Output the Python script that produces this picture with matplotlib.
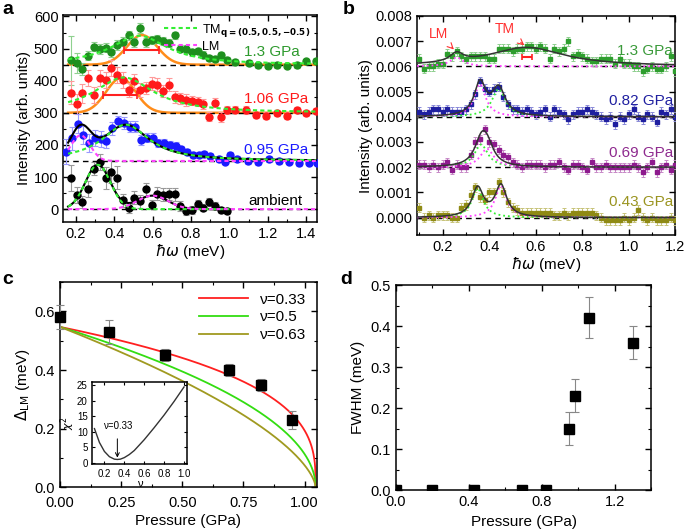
import numpy as np
import matplotlib
matplotlib.use('Agg')
import matplotlib.pyplot as plt
from matplotlib.ticker import MultipleLocator

plt.rcParams['font.family'] = ['Liberation Sans', 'DejaVu Sans']
plt.rcParams['font.size'] = 10
plt.rcParams['axes.linewidth'] = 1.1

# ---------------- panel a : spectra (arb. units) ----------------
a_x_gr = [0.175, 0.205, 0.235, 0.265, 0.295, 0.325, 0.355, 0.385, 0.415, 0.445,
          0.475, 0.505, 0.535, 0.565, 0.595, 0.625, 0.655, 0.685, 0.715, 0.745,
          0.775, 0.805, 0.835, 0.865, 0.895, 0.925, 0.955, 0.985,
          1.03, 1.10, 1.15, 1.20, 1.25, 1.30, 1.35, 1.40, 1.45]
a_y_13 = [463, 455, 437, 478, 506, 498, 503, 489, 512, 522,
          541, 519, 564, 519, 527, 530, 524, 517, 541, 500,
          499, 488, 493, 481, 470, 468, 479, 465,
          458, 455, 449, 446, 449, 446, 449, 460, 462]
a_e_13 = [75, 30, 18, 15, 15, 15, 15, 15, 15, 15,
          15, 15, 15, 15, 12, 12, 12, 12, 12, 12,
          12, 10, 10, 10, 10, 10, 10, 10, 10, 8, 8, 8, 8, 8, 8, 8, 8]

a_x_red = [0.175, 0.205, 0.235, 0.265, 0.295, 0.325, 0.355, 0.385, 0.415, 0.445,
           0.475, 0.505, 0.535, 0.565, 0.595, 0.625, 0.655, 0.685, 0.715, 0.745,
           0.775, 0.805, 0.835, 0.865, 0.895, 0.925, 0.955, 0.985,
           1.03, 1.085, 1.14, 1.19, 1.25, 1.30, 1.35, 1.40, 1.45]
a_y_106 = [363, 327, 361, 408, 356, 408, 401, 439, 418, 403,
           372, 400, 372, 377, 390, 387, 368, 387, 349, 345,
           340, 338, 335, 328, 288, 332, 287, 309,
           310, 309, 294, 291, 299, 291, 309, 299, 306]
a_e_106 = [35, 30, 30, 25, 25, 25, 25, 25, 25, 25,
           22, 22, 22, 20, 20, 20, 20, 20, 18, 18,
           18, 15, 15, 15, 15, 15, 15, 12, 12, 12,
           10, 10, 10, 10, 10, 10, 10]

a_x_blue = [0.15, 0.18, 0.21, 0.24, 0.27, 0.30, 0.33, 0.36, 0.39, 0.42,
            0.45, 0.48, 0.51, 0.54, 0.57, 0.60, 0.63, 0.66, 0.69, 0.72,
            0.75, 0.78, 0.81, 0.84, 0.87, 0.90,
            0.945, 0.975, 1.005, 1.04, 1.095, 1.15, 1.205, 1.26, 1.31, 1.365, 1.415, 1.455]
a_y_095 = [179, 220, 266, 230, 206, 222, 218, 211, 252, 273,
           268, 257, 257, 216, 223, 223, 205, 205, 199, 197,
           188, 177, 169, 169, 171, 166,
           156, 148, 169, 156, 150, 146, 156, 150, 148, 143, 145, 145]
a_e_095 = [40, 35, 30, 28, 28, 25, 25, 22, 20, 18,
           18, 18, 18, 15, 15, 15, 12, 12, 12, 12,
           10, 10, 10, 10, 10, 10,
           8, 8, 8, 8, 8, 8, 8, 8, 8, 8, 8, 8]

a_x_amb = [0.175, 0.205, 0.235, 0.265, 0.295, 0.325, 0.355, 0.385, 0.415, 0.445,
           0.475, 0.505, 0.535, 0.565, 0.595, 0.625, 0.655, 0.685, 0.715, 0.745,
           0.775, 0.805, 0.835, 0.865, 0.895, 0.925, 0.955, 0.985]
a_y_amb = [97, 45, 22, 63, 126, 146, 97, 117, 98, 27,
           3, 36, 24, 62, 14, 48, 45, 47, 46, 10,
           -6, -2, 17, 5, 22, 11, -2, -5]
a_e_amb = [40, 25, 20, 25, 20, 25, 35, 35, 35, 20,
           15, 20, 20, 20, 15, 20, 20, 18, 20, 15,
           12, 12, 12, 12, 12, 10, 10, 10]

a_offsets = [450, 300, 150, 0]
# fit peaks: (centre, amplitude, width)
amb_tm = (0.315, 138, 0.065)
amb_lm = (0.60, 42, 0.08)
p095_lm = (0.225, 80, 0.05)
p095_tm = (0.46, 113, 0.15)
p106_tm = (0.45, 110, 0.19)
p106_res = (0.435, 108, 0.077)
p13_tm = (0.53, 90, 0.18)
p13_res = (0.545, 92, 0.079)
p106_bar = (0.343, 0.52, 354)
p13_bar = (0.45, 0.635, 497)

# ---------------- panel b ----------------
b_x = [0.10, 0.12, 0.14, 0.16, 0.18, 0.20, 0.22, 0.24, 0.26, 0.28,
       0.30, 0.32, 0.34, 0.36, 0.38, 0.40, 0.42, 0.44, 0.46, 0.48,
       0.50, 0.52, 0.54, 0.56, 0.58, 0.60, 0.62, 0.64, 0.66, 0.68,
       0.70, 0.72, 0.74, 0.76, 0.78, 0.80, 0.82, 0.84, 0.86, 0.88,
       0.90, 0.92, 0.94, 0.96, 0.98, 1.00, 1.02, 1.04, 1.06, 1.08,
       1.10, 1.12, 1.14, 1.16, 1.18, 1.20]
b_y_13 = [0.0063, 0.0059, 0.0060, 0.0060, 0.0061, 0.0061, 0.0065, 0.0064, 0.0066, 0.0064,
          0.0063, 0.0064, 0.0064, 0.0064, 0.0064, 0.0063, 0.0063, 0.0067, 0.0067, 0.0067,
          0.0066, 0.0067, 0.0067, 0.0068, 0.0068, 0.0067, 0.0068, 0.0067, 0.0063, 0.0067,
          0.0066, 0.0067, 0.0070, 0.0064, 0.0065, 0.0064, 0.0063, 0.0062, 0.0062, 0.0063,
          0.0063, 0.0063, 0.0061, 0.0063, 0.0061, 0.0061, 0.0060, 0.0060, 0.0058, 0.0059,
          0.0060, 0.0059, 0.0059, 0.0060, 0.0064, 0.0058]
b_y_082 = [0.0042, 0.0041, 0.0042, 0.0043, 0.0043, 0.0042, 0.0043, 0.0042, 0.0042, 0.0042,
           0.0043, 0.0045, 0.0049, 0.0054, 0.0051, 0.0050, 0.0051, 0.0052, 0.0048, 0.0045,
           0.0043, 0.0043, 0.0042, 0.0043, 0.0042, 0.0041, 0.0042, 0.0043, 0.0040, 0.0043,
           0.0042, 0.0041, 0.0039, 0.0041, 0.0042, 0.0042, 0.0043, 0.0042, 0.0041, 0.0040,
           0.0039, 0.0040, 0.0037, 0.0040, 0.0039, 0.0041, 0.0043, 0.0040, 0.0039, 0.0041,
           0.0040, 0.0038, 0.0042, 0.0041, 0.0043, 0.0040]
b_y_069 = [0.0021, 0.0021, 0.0020, 0.0021, 0.0020, 0.0021, 0.0022, 0.0019, 0.0021, 0.0020,
           0.0020, 0.0025, 0.0030, 0.0031, 0.0035, 0.0030, 0.0029, 0.0027, 0.0025, 0.0024,
           0.0022, 0.0021, 0.0020, 0.0021, 0.0021, 0.0021, 0.0021, 0.0020, 0.0021, 0.0021,
           0.0022, 0.0020, 0.0019, 0.0021, 0.0021, 0.0020, 0.0019, 0.0022, 0.0020, 0.0020,
           0.0021, 0.0020, 0.0020, 0.0020, 0.0020, 0.0020, 0.0021, 0.0020, 0.0018, 0.0020,
           0.0022, 0.0018, 0.0020, 0.0021, 0.0019, 0.0021]
b_y_043 = [0.0004, 0.0000, 0.0001, 0.0000, 0.0001, 0.0001, 0.0001, 0.0000, 0.0000, 0.0004,
           0.0005, 0.0009, 0.0012, 0.0008, 0.0007, 0.0010, 0.0010, 0.0014, 0.0010, 0.0006,
           0.0004, 0.0003, 0.0002, 0.0002, 0.0002, 0.0002, 0.0002, 0.0002, 0.0002, 0.0001,
           0.0001, 0.0002, 0.0001, 0.0002, 0.0002, 0.0002, 0.0002, 0.0002, 0.0001, 0.0000,
           -0.0001, -0.0001, -0.0001, -0.0001, 0.0000, -0.0001, 0.0000, 0.0003, 0.0000, -0.0001,
           0.0000, -0.0001, -0.0001, -0.0001, 0.0000, -0.0001]
b_err = 0.00018
b_offsets = [0.006, 0.004, 0.002, 0.0]
b13_lm = (0.26, 0.00035, 0.035)
b13_tm = (0.56, 0.00075, 0.2)
b082_lm = (0.36, 0.0013, 0.03)
b082_tm = (0.44, 0.0011, 0.035)
b069_tm = (0.365, 0.0009, 0.035)
b069_lm = (0.39, 0.00073, 0.035)
b043_tm = (0.35, 0.00115, 0.03)
b043_lm = (0.45, 0.00125, 0.03)
b13_bar = (0.54, 0.585, 0.00638)

# ---------------- panel c ----------------
c_p = [0.0, 0.20, 0.43, 0.69, 0.82, 0.95]
c_gap = [0.58, 0.53, 0.45, 0.40, 0.35, 0.23]
c_err = [0.04, 0.04, 0.02, 0.02, 0.02, 0.03]
c_nu = [0.33, 0.5, 0.63]
c_amp = 0.547
c_pc = 1.045
inset_nu = [0.1, 0.15, 0.2, 0.25, 0.3, 0.33, 0.36, 0.4, 0.45, 0.5, 0.6, 0.7, 0.8, 0.9, 1.0]
inset_chi2 = [11.0, 6.5, 3.6, 1.9, 1.1, 1.0, 1.1, 1.6, 2.6, 3.9, 7.4, 11.3, 15.4, 19.8, 24.5]

# ---------------- panel d ----------------
d_p = [0.0, 0.20, 0.43, 0.69, 0.82, 0.95, 0.98, 1.06, 1.30]
d_fwhm = [0.0, 0.0, 0.0, 0.0, 0.0, 0.15, 0.23, 0.42, 0.36]
d_err = [0, 0, 0, 0, 0, 0.04, 0.04, 0.05, 0.04]


def gauss(x, p):
    c, a, w = p
    return a * np.exp(-(x - c) ** 2 / (2 * w ** 2))


def lorentz(x, p):
    c, a, w = p
    return a / (1 + ((x - c) / w) ** 2)


def style_axis(ax):
    ax.tick_params(which='both', direction='in', top=True, right=True, labelsize=10.5)
    ax.tick_params(which='major', length=4, width=1)
    ax.tick_params(which='minor', length=2, width=0.8)


TM_COL = '#33ee33'
LM_COL = '#ff44ff'
DOT = (0, (2, 1.5))

fig = plt.figure(figsize=(6.85, 5.31), dpi=100)

# ===== a =====
ax = fig.add_axes([0.0924, 0.582, 0.370, 0.390])
xf = np.linspace(0.16, 1.45, 400)
xamb = np.linspace(0.16, 1.0, 300)

ax.plot(xf, a_offsets[0] + gauss(xf, p13_res), color='#ff8c1a', lw=1.8, zorder=2)
ax.plot(xf, a_offsets[1] + gauss(xf, p106_res), color='#ff8c1a', lw=1.8, zorder=2)
for off in a_offsets:
    ax.axhline(off, color='k', ls=(0, (4, 3)), lw=1, zorder=3)

ax.errorbar(a_x_gr, a_y_13, yerr=a_e_13, fmt='o', color='#1e8f1e', ecolor='#8fd18f',
            ms=5, capsize=2, elinewidth=0.8, capthick=0.8, zorder=4)
ax.errorbar(a_x_red, a_y_106, yerr=a_e_106, fmt='o', color='#ff1a1a', ecolor='#ff9a9a',
            ms=5, capsize=2, elinewidth=0.8, capthick=0.8, zorder=4)
ax.errorbar(a_x_blue, a_y_095, yerr=a_e_095, fmt='o', color='#1a1aff', ecolor='#9a9aff',
            ms=5, capsize=2, elinewidth=0.8, capthick=0.8, zorder=4)
ax.errorbar(a_x_amb, a_y_amb, yerr=a_e_amb, fmt='o', color='k', ecolor='#999999',
            ms=5, capsize=2, elinewidth=0.8, capthick=0.8, zorder=4)

ax.plot(xf, a_offsets[0] + lorentz(xf, p13_tm), color=TM_COL, ls=DOT, lw=1.5, zorder=5,
        label=r'TM$_{\mathbf{q=(0.5,0.5,{-}0.5)}}$')
ax.plot(xf, a_offsets[1] + lorentz(xf, p106_tm), color=TM_COL, ls=DOT, lw=1.5, zorder=5)

ax.plot(xf, a_offsets[2] + lorentz(xf, p095_tm) + gauss(xf, p095_lm), color='k', lw=1.5, zorder=5)
ax.plot(xf, a_offsets[2] + lorentz(xf, p095_tm), color=TM_COL, ls=DOT, lw=1.5, zorder=6)
ax.plot(xf, a_offsets[2] + gauss(xf, p095_lm), color=LM_COL, ls=DOT, lw=1.5, zorder=6,
        label='LM')

ax.plot(xamb, gauss(xamb, amb_tm) + gauss(xamb, amb_lm), color='k', lw=1.5, zorder=5)
ax.plot(xamb, gauss(xamb, amb_tm), color=TM_COL, ls=DOT, lw=1.5, zorder=6)
ax.plot(xf, gauss(xf, amb_lm), color=LM_COL, ls=DOT, lw=1.5, zorder=6)

for bar in [p106_bar, p13_bar]:
    ax.errorbar([(bar[0] + bar[1]) / 2], [bar[2]], xerr=[(bar[1] - bar[0]) / 2],
                fmt='none', ecolor='#ff2020', capsize=3, elinewidth=1.5, capthick=1.2, zorder=6)

ax.text(1.22, 489, '1.3 GPa', color='#2e9a2e', ha='center', va='center', fontsize=11)
ax.text(1.245, 342, '1.06 GPa', color='#ff1a1a', ha='center', va='center', fontsize=11)
ax.text(1.245, 185, '0.95 GPa', color='#1a1aff', ha='center', va='center', fontsize=11)
ax.text(1.24, 26, 'ambient', color='k', ha='center', va='center', fontsize=11)
ax.legend(loc='upper right', frameon=False, fontsize=9, handlelength=2.6,
          borderaxespad=0.15, labelspacing=0.15, handletextpad=0.4)
ax.set_xlim(0.135, 1.455)
ax.set_ylim(-40, 605)
ax.xaxis.set_major_locator(MultipleLocator(0.2))
ax.xaxis.set_minor_locator(MultipleLocator(0.1))
ax.yaxis.set_major_locator(MultipleLocator(100))
ax.yaxis.set_minor_locator(MultipleLocator(50))
style_axis(ax)
ax.set_xlabel(r'$\hbar\omega$ (meV)', fontsize=11, labelpad=1)
ax.set_ylabel('Intensity (arb. units)', fontsize=11, labelpad=2)

# ===== b =====
ax = fig.add_axes([0.609, 0.557, 0.377, 0.413])
xb = np.linspace(0.09, 1.2, 400)
for off in b_offsets:
    ax.axhline(off, color='k', ls=(0, (4, 3)), lw=1, zorder=2)

series_b = [(b_y_13, '#2e9e2e', '#8fcf8f'), (b_y_082, '#1f1fa0', '#8a8ad8'),
            (b_y_069, '#8e1a8e', '#c88ac8'), (b_y_043, '#8f8a14', '#c8c47a')]
for yv, col, ecol in series_b:
    ax.errorbar(b_x, yv, yerr=b_err, fmt='s', color=col, ecolor=ecol, ms=3.5,
                capsize=1.5, elinewidth=0.7, capthick=0.7, zorder=3)

ax.plot(xb, b_offsets[0] + lorentz(xb, b13_lm), color=LM_COL, ls=':', lw=1.3, zorder=4)
ax.plot(xb, b_offsets[0] + lorentz(xb, b13_lm) + lorentz(xb, b13_tm), color='#333333', lw=1.1, zorder=5)
pairs = [(b_offsets[1], b082_tm, b082_lm), (b_offsets[2], b069_tm, b069_lm),
         (b_offsets[3], b043_tm, b043_lm)]
for off, tm, lm in pairs:
    ax.plot(xb, off + lorentz(xb, tm), color=TM_COL, ls=':', lw=1.3, zorder=4)
    ax.plot(xb, off + lorentz(xb, lm), color=LM_COL, ls=':', lw=1.3, zorder=4)
    ax.plot(xb, off + lorentz(xb, tm) + lorentz(xb, lm), color='#333333', lw=1.1, zorder=5)

ax.errorbar([(b13_bar[0] + b13_bar[1]) / 2], [b13_bar[2]], xerr=[(b13_bar[1] - b13_bar[0]) / 2],
            fmt='none', ecolor='#ff2020', capsize=2.5, elinewidth=1.5, capthick=1.2, zorder=6)
ax.annotate('LM', xy=(0.252, 0.00663), xytext=(0.18, 0.0073), color='#ff3030',
            fontsize=10, ha='center', va='center',
            arrowprops=dict(arrowstyle='->', color='#ff3030', lw=0.8, shrinkA=4, shrinkB=1))
ax.annotate('TM', xy=(0.555, 0.0068), xytext=(0.466, 0.00748), color='#ff3030',
            fontsize=10, ha='center', va='center',
            arrowprops=dict(arrowstyle='->', color='#ff3030', lw=0.8, shrinkA=4, shrinkB=1))
ax.text(1.19, 0.0066, '1.3 GPa', color='#3a9a3a', ha='right', va='center', fontsize=11)
ax.text(1.19, 0.00464, '0.82 GPa', color='#2020a0', ha='right', va='center', fontsize=11)
ax.text(1.19, 0.00256, '0.69 GPa', color='#8e2a8e', ha='right', va='center', fontsize=11)
ax.text(1.19, 0.0006, '0.43 GPa', color='#9a9420', ha='right', va='center', fontsize=11)
ax.set_xlim(0.09, 1.2)
ax.set_ylim(-0.0007, 0.008)
ax.xaxis.set_major_locator(MultipleLocator(0.2))
ax.xaxis.set_minor_locator(MultipleLocator(0.1))
ax.set_yticks([0.0, 0.001, 0.002, 0.003, 0.004, 0.005, 0.006, 0.007, 0.008])
ax.set_yticklabels(['0.000', '0.001', '0.002', '0.003', '0.004', '0.005', '0.006', '0.007', '0.008'])
style_axis(ax)
ax.set_xlabel(r'$\hbar\omega$ (meV)', fontsize=11, labelpad=1)
ax.set_ylabel('Intensity (arb. units)', fontsize=11, labelpad=2)

# ===== c =====
ax = fig.add_axes([0.0876, 0.082, 0.375, 0.387])
pp = np.linspace(0, c_pc, 600)
cols_c = ['#ff2020', '#33dd11', '#a09a20']
for nu, col in zip(c_nu, cols_c):
    ax.plot(pp, c_amp * (1 - pp / c_pc) ** nu, color=col, lw=1.3, label='\u03bd=%g' % nu)
ax.errorbar(c_p, c_gap, yerr=c_err, fmt='s', color='k', ecolor='#888888', ms=6.5,
            capsize=3, elinewidth=0.8, capthick=0.8, zorder=5, clip_on=False)
ax.legend(loc='upper right', frameon=False, fontsize=11, handlelength=3.2,
          borderaxespad=0.3, labelspacing=0.25)
ax.set_xlim(0, 1.05)
ax.set_ylim(0, 0.7)
ax.set_xticks([0.0, 0.25, 0.5, 0.75, 1.0])
ax.set_xticklabels(['0.00', '0.25', '0.50', '0.75', '1.00'])
ax.xaxis.set_minor_locator(MultipleLocator(0.125))
ax.yaxis.set_major_locator(MultipleLocator(0.2))
ax.yaxis.set_minor_locator(MultipleLocator(0.1))
style_axis(ax)
ax.tick_params(axis='x', which='major', pad=6)
ax.set_xlabel('Pressure (GPa)', fontsize=11, labelpad=3)
ax.set_ylabel(r'$\Delta_{\rm LM}$ (meV)', fontsize=11, labelpad=2)

ins = fig.add_axes([0.135, 0.126, 0.138, 0.154])
ins.plot(inset_nu, inset_chi2, color='#333333', lw=1)
ins.annotate('\u03bd=0.33', xy=(0.33, 1.6), xytext=(0.33, 12), fontsize=7, ha='center',
             va='center', arrowprops=dict(arrowstyle='->', color='k', lw=0.7, shrinkA=4, shrinkB=0))
ins.set_xlim(0.08, 1.03)
ins.set_ylim(-0.5, 26)
ins.xaxis.set_major_locator(MultipleLocator(0.2))
ins.yaxis.set_major_locator(MultipleLocator(5))
ins.tick_params(which='both', direction='in', top=True, right=True, labelsize=7, length=2.5)
ins.set_xlabel('\u03bd', fontsize=8, labelpad=0)
ins.set_ylabel(r'$\chi^2$', fontsize=8, labelpad=0)

# ===== d =====
ax = fig.add_axes([0.578, 0.077, 0.373, 0.386])
ax.errorbar(d_p, d_fwhm, yerr=d_err, fmt='s', color='k', ecolor='#888888', ms=6.5,
            capsize=3, elinewidth=0.8, capthick=0.8, zorder=5)
ax.set_xlim(0, 1.4)
ax.set_ylim(0, 0.5)
ax.xaxis.set_major_locator(MultipleLocator(0.4))
ax.xaxis.set_minor_locator(MultipleLocator(0.2))
ax.yaxis.set_major_locator(MultipleLocator(0.1))
ax.yaxis.set_minor_locator(MultipleLocator(0.05))
style_axis(ax)
ax.set_xlabel('Pressure (GPa)', fontsize=11, labelpad=4)
ax.set_ylabel('FWHM (meV)', fontsize=11, labelpad=4)

for lab, xx, yy in [('a', 0.004, 0.998), ('b', 0.501, 0.998), ('c', 0.004, 0.49), ('d', 0.497, 0.49)]:
    fig.text(xx, yy, lab, fontsize=14, fontweight='bold', ha='left', va='top')

fig.savefig('out.png', dpi=100)
